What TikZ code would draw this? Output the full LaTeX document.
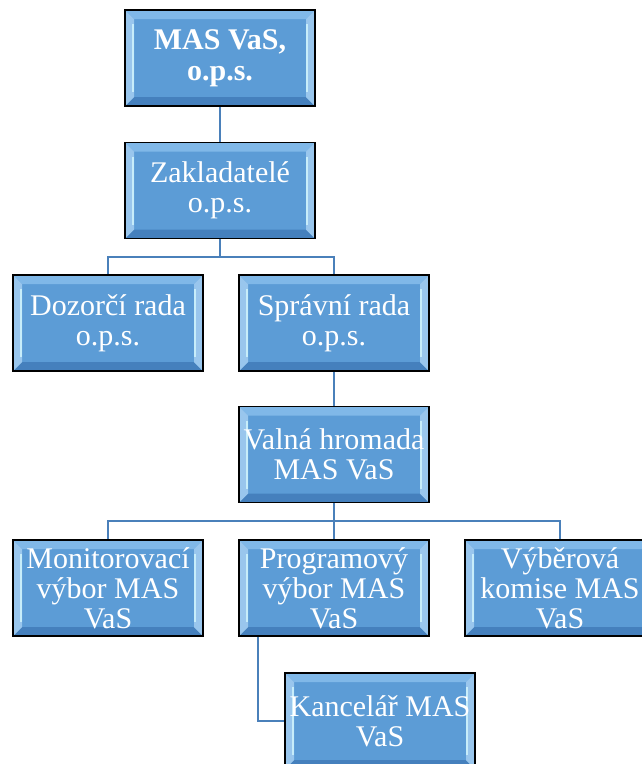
\documentclass[tikz,border=0pt]{standalone}
\definecolor{blue(office)}{rgb}{0.36, 0.61, 0.84}
\definecolor{blue(steel)}{rgb}{0.29, 0.50, 0.73}
\definecolor{blue(bevel)}{rgb}{0.50, 0.72, 0.91}
\definecolor{blue(shade)}{rgb}{0.27, 0.50, 0.74}
\definecolor{blizzardblue}{rgb}{0.78, 0.93, 0.98}
\usepackage{fontspec}
\setmainfont{Liberation Serif}
\usepackage{tikz}

\tikzset{
	unit/.style={rectangle, draw=black, line width=1.6pt, fill=blue(office),
		minimum width=190pt, minimum height=96pt, inner sep=0pt,
		text=white, align=center, font=\fontsize{30}{30}\selectfont,
		path picture={
			\fill[blue(bevel)] (path picture bounding box.north west) -- (path picture bounding box.north east)
				-- ([xshift=-9pt,yshift=-9pt]path picture bounding box.north east)
				-- ([xshift=9pt,yshift=-9pt]path picture bounding box.north west) -- cycle;
			\fill[blue(shade)] (path picture bounding box.south west) -- (path picture bounding box.south east)
				-- ([xshift=-9pt,yshift=9pt]path picture bounding box.south east)
				-- ([xshift=9pt,yshift=9pt]path picture bounding box.south west) -- cycle;
			\fill[blue(bevel)!80!white] (path picture bounding box.north west) -- (path picture bounding box.south west)
				-- ([xshift=9pt,yshift=9pt]path picture bounding box.south west)
				-- ([xshift=9pt,yshift=-9pt]path picture bounding box.north west) -- cycle;
			\fill[blue(bevel)!80!white] (path picture bounding box.north east) -- (path picture bounding box.south east)
				-- ([xshift=-9pt,yshift=9pt]path picture bounding box.south east)
				-- ([xshift=-9pt,yshift=-9pt]path picture bounding box.north east) -- cycle;
			\draw[blizzardblue, line width=2.5pt] ([xshift=8pt,yshift=-14pt]path picture bounding box.north west)
				-- ([xshift=8pt,yshift=14pt]path picture bounding box.south west);
			\draw[blizzardblue, line width=2.5pt] ([xshift=-8pt,yshift=-14pt]path picture bounding box.north east)
				-- ([xshift=-8pt,yshift=14pt]path picture bounding box.south east);
		}},
	link/.style={draw=blue(steel), line width=2.2pt}
}

\begin{document}
\begin{tikzpicture}[x=1pt, y=-1pt]
	\useasboundingbox (0,0) rectangle (641,764);
	\node[unit, font=\fontsize{30}{31}\selectfont\bfseries] (mas) at (220,58) {MAS VaS,\\o.p.s.};
	\node[unit] (zakladatele) at (220,190.5) {Zakladatelé\\o.p.s.};
	\node[unit] (dozorci) at (108,323) {Dozorčí rada\\o.p.s.};
	\node[unit] (spravni) at (334,323) {Správní rada\\o.p.s.};
	\node[unit] (valna) at (334,454.5) {Valná hromada\\MAS VaS};
	\node[unit] (monitorovaci) at (108,588) {Monitorovací\\výbor MAS\\VaS};
	\node[unit] (programovy) at (334,588) {Programový\\výbor MAS\\VaS};
	\node[unit] (vyberova) at (560,588) {Výběrová\\komise MAS\\VaS};
	\node[unit] (kancelar) at (380,721) {Kancelář MAS\\VaS};

	\coordinate (fork1) at (220,257);
	\coordinate (fork2) at (334,521);

	\draw[link] (mas) -- (zakladatele);
	\draw[link] (zakladatele) -- (fork1) -| (dozorci);
	\draw[link] (fork1) -| (spravni);
	\draw[link] (spravni) -- (valna);
	\draw[link] (valna) -- (fork2) -| (monitorovaci);
	\draw[link] (fork2) -- (programovy);
	\draw[link] (fork2) -| (vyberova);
	\draw[link] ([xshift=-76pt]programovy.south) |- (kancelar.west);
\end{tikzpicture}
\end{document}
